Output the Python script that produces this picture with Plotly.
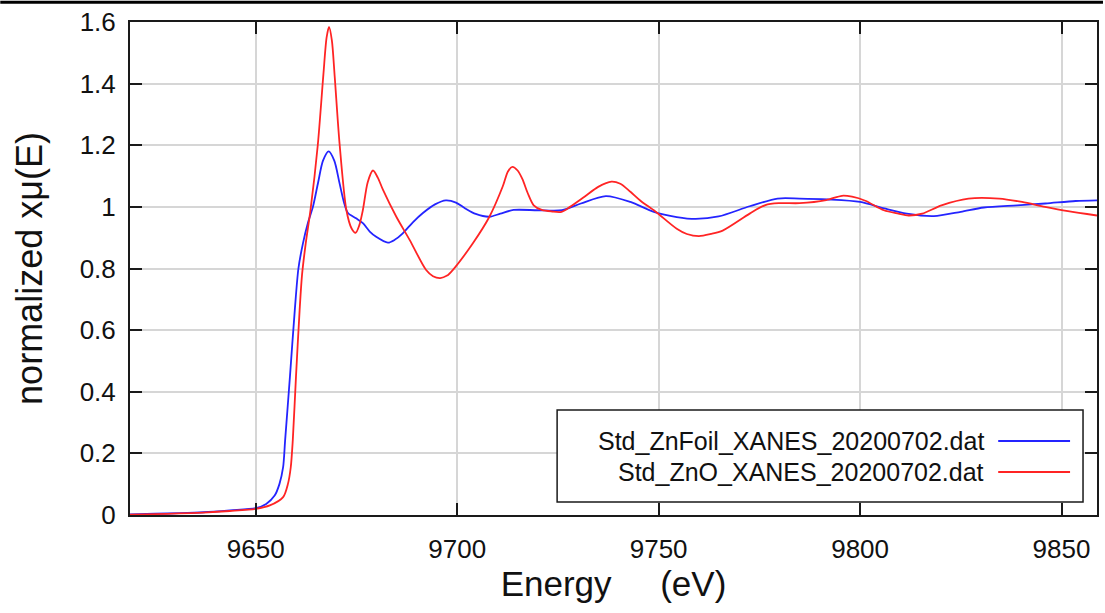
import plotly.graph_objects as go

# ---------------- data ----------------
series_names = ["Std_ZnFoil_XANES_20200702.dat", "Std_ZnO_XANES_20200702.dat"]
series_colors = ["#2424ff", "#ff2424"]

energy_foil = [9618.8, 9625, 9631, 9637, 9643.6, 9650, 9652.6, 9654.7, 9655.9, 9656.8,
               9657.3, 9658.5, 9659.7, 9660.6, 9661.7, 9663, 9664.2, 9665.5, 9666.7, 9668.1,
               9669.5, 9670.8, 9672, 9672.9, 9674.9, 9676.6, 9678.3, 9679.9, 9682.8, 9684.5,
               9686.5, 9689, 9691.5, 9694.5, 9697.2, 9699.7, 9702, 9704.6, 9708, 9710.7,
               9714, 9720, 9726, 9730.7, 9736.9, 9743, 9748.8, 9754.5, 9759.2, 9764.9,
               9772.6, 9779.5, 9785, 9792, 9800, 9806, 9811.6, 9818.3, 9825, 9830.7,
               9839, 9846, 9853.5, 9858.8]
mu_foil = [0.002, 0.004, 0.006, 0.009, 0.015, 0.022, 0.036, 0.063, 0.101, 0.155,
           0.242, 0.45, 0.665, 0.80, 0.88, 0.95, 1.0, 1.08, 1.15, 1.18,
           1.15, 1.077, 1.01, 0.98, 0.963, 0.947, 0.92, 0.903, 0.884, 0.893,
           0.914, 0.95, 0.98, 1.008, 1.021, 1.014, 0.995, 0.977, 0.968, 0.978,
           0.99, 0.989, 0.989, 1.011, 1.035, 1.016, 0.984, 0.967, 0.961, 0.969,
           1.002, 1.027, 1.027, 1.024, 1.016, 0.995, 0.978, 0.970, 0.984, 0.998,
           1.005, 1.011, 1.019, 1.021]

energy_zno = [9618.8, 9625, 9631, 9637, 9643.6, 9650, 9653.5, 9656.8, 9658, 9658.7,
              9659.2, 9660, 9660.9, 9661.5, 9662.4, 9663.6, 9665.4, 9666.8, 9667.6, 9668.2,
              9668.9, 9669.6, 9670.8, 9672.5, 9673.8, 9674.8, 9675.7, 9676.6, 9677.8, 9679.1,
              9680.3, 9681.6, 9684.9, 9688.2, 9692.3, 9694, 9695.8, 9697.5, 9698.9, 9703.9,
              9708, 9711.3, 9712.6, 9713.7, 9715, 9716.2, 9717.5, 9719, 9721, 9723.5,
              9725.9, 9728, 9731.6, 9735, 9738.3, 9740.5, 9743, 9745.5, 9749.2, 9754.5,
              9757, 9760, 9763, 9765.9, 9772.6, 9776.5, 9780, 9785, 9791.6, 9795.5,
              9798, 9801.3, 9805.9, 9809.5, 9812, 9815.4, 9820.2, 9826.9, 9834.5, 9840.2,
              9845.9, 9851.6, 9858.8]
mu_zno = [0.001, 0.003, 0.005, 0.008, 0.013, 0.02, 0.031, 0.058, 0.101, 0.155,
          0.242, 0.45, 0.665, 0.78, 0.88, 0.99, 1.2, 1.43, 1.55, 1.584,
          1.54, 1.424, 1.207, 0.99, 0.93, 0.916, 0.94, 0.99, 1.08, 1.118,
          1.095, 1.055, 0.968, 0.893, 0.795, 0.775, 0.769, 0.777, 0.795, 0.882,
          0.968, 1.066, 1.115, 1.13, 1.118, 1.09, 1.045, 1.005, 0.99, 0.985,
          0.984, 1.0, 1.033, 1.065, 1.082, 1.075, 1.049, 1.02, 0.985, 0.929,
          0.912, 0.905, 0.912, 0.923, 0.978, 1.006, 1.012, 1.012, 1.022, 1.036,
          1.033, 1.02, 0.989, 0.978, 0.972, 0.978, 1.005, 1.027, 1.027, 1.016,
          1.0, 0.986, 0.972]

x_ticks = [9650, 9700, 9750, 9800, 9850]
y_ticks = [0, 0.2, 0.4, 0.6, 0.8, 1, 1.2, 1.4, 1.6]
x_title = "Energy\u00a0\u00a0\u00a0\u00a0\u00a0(eV)"
y_title = "normalized xμ(E)"

# ---------------- figure ----------------
W, H = 1105, 613
ML, MR, MT, MB = 130, 6, 22, 98
PW, PH = W - ML - MR, H - MT - MB
FONT = "Arial, Liberation Sans, sans-serif"


def px_to_paper(px, py):
    return (px - ML) / PW, (H - MB - py) / PH


fig = go.Figure()
xs = [energy_foil, energy_zno]
ys = [mu_foil, mu_zno]
for name, color, x, y in zip(series_names, series_colors, xs, ys):
    fig.add_trace(go.Scatter(x=x, y=y, mode="lines", name=name,
                             line=dict(color=color, width=1.8, shape="spline", smoothing=0.8),
                             showlegend=False, hoverinfo="skip"))

axis_common = dict(
    showline=True, linecolor="#1a1a1a", linewidth=2, mirror="ticks",
    ticks="inside", ticklen=12, tickwidth=2, tickcolor="#1a1a1a",
    showgrid=True, gridcolor="#d6d6d6", gridwidth=1.5,
    zeroline=False,
    tickfont=dict(family=FONT, size=26, color="#111"),
)

fig.update_xaxes(range=[9618.8, 9858.8], tickvals=x_ticks, ticktext=[str(v) for v in x_ticks],
                 title=dict(text=x_title, font=dict(family=FONT, size=35, color="#111"), standoff=6),
                 ticklabelstandoff=10, **axis_common)
fig.update_yaxes(range=[0, 1.6], tickvals=y_ticks, ticktext=[f"{v:g}" for v in y_ticks],
                 title=dict(text=y_title, font=dict(family=FONT, size=36, color="#111"), standoff=26),
                 ticklabelstandoff=7, **axis_common)

# top black border line of the screenshot
x0, ytop = px_to_paper(0, 2.2)
x1, _ = px_to_paper(W, 2.2)
fig.add_shape(type="line", xref="paper", yref="paper", x0=x0, x1=x1, y0=ytop, y1=ytop,
              line=dict(color="black", width=3))

# legend (text on the left, line sample on the right)
bx0, by0 = px_to_paper(558, 502)
bx1, by1 = px_to_paper(1085, 410)
fig.add_shape(type="rect", xref="paper", yref="paper", x0=bx0, x1=bx1, y0=by0, y1=by1,
              line=dict(color="#1a1a1a", width=1.5), fillcolor="white", layer="above")
row_y = [441, 472]
for name, color, ry in zip(series_names, series_colors, row_y):
    tx, ty = px_to_paper(988, ry)
    fig.add_annotation(x=tx, y=ty, xref="paper", yref="paper", text=name, showarrow=False,
                       xanchor="right", yanchor="middle",
                       font=dict(family=FONT, size=25, color="#111"))
    lx0, ly = px_to_paper(1000, ry)
    lx1, _ = px_to_paper(1072, ry)
    fig.add_shape(type="line", xref="paper", yref="paper", x0=lx0, x1=lx1, y0=ly, y1=ly,
                  line=dict(color=color, width=1.8), layer="above")

fig.update_layout(
    width=W, height=H,
    margin=dict(l=ML, r=MR, t=MT, b=MB, pad=0),
    paper_bgcolor="white", plot_bgcolor="white",
    font=dict(family=FONT, color="#111"),
    showlegend=False,
    hovermode=False,
)

fig.write_html("out.html", config={"displayModeBar": False},
               post_script="document.body.style.margin='0px';document.body.style.overflow='hidden';")
